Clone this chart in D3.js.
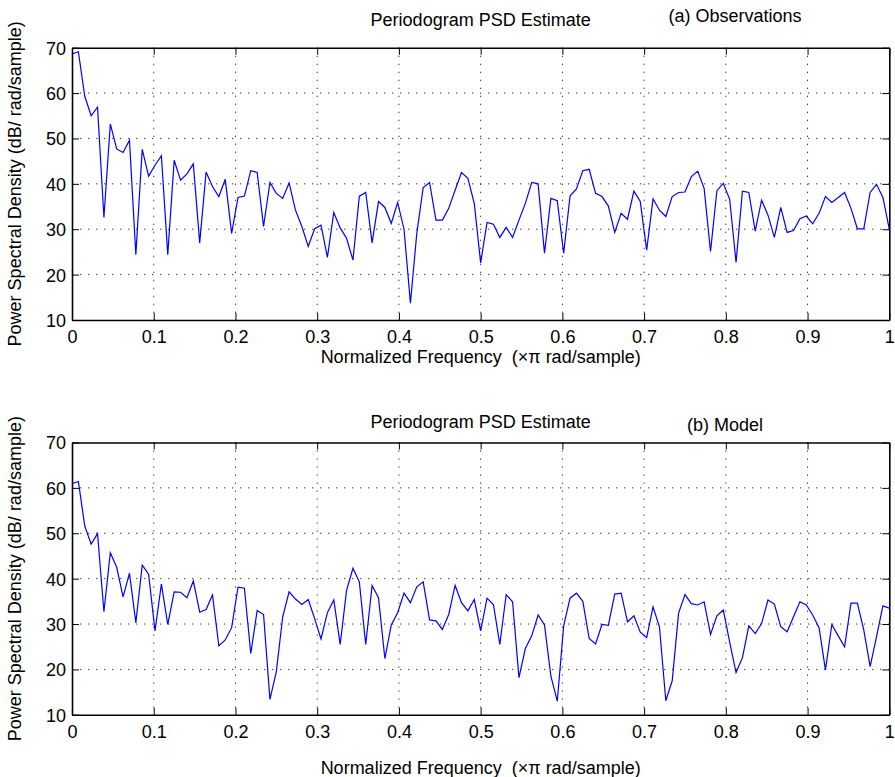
<!DOCTYPE html>
<html>
<head>
<meta charset="utf-8">
<script src="https://cdn.jsdelivr.net/npm/d3@7"></script>
<style>
  body { margin: 0; background: #fff; }
  text { font-family: "Liberation Sans", Arial, Helvetica, sans-serif; fill: #000; white-space: pre; }
  .axis path, .axis line { stroke: #000; }
  .grid line { stroke: #333; stroke-dasharray: 1.3,6.7; stroke-width: 1; }
</style>
</head>
<body>
<div id="chart"></div>
<script>
// periodogram bins: 256-point FFT -> 129 bins from 0 to 1 (x pi rad/sample)
var nfft = 256;
var freq = d3.range(nfft / 2 + 1).map(function(k) { return k / (nfft / 2); });

// (a) Observations, dB/(rad/sample)
var observations = [68.6, 69.1, 59.3, 55.0, 56.9, 32.6, 53.2, 47.7, 46.9, 49.6,
  24.4, 47.6, 41.7, 44.1, 46.2, 24.4, 45.2, 40.8, 42.2, 44.4,
  27.0, 42.6, 39.4, 37.2, 41.0, 29.1, 37.0, 37.3, 42.9, 42.5,
  30.6, 40.3, 37.9, 36.8, 40.2, 34.2, 30.6, 26.2, 30.1, 30.9,
  23.8, 33.7, 30.3, 28.0, 23.2, 37.3, 38.1, 27.0, 36.1, 34.8,
  31.3, 35.9, 30.0, 13.7, 29.1, 39.2, 40.3, 32.0, 32.0, 34.6,
  38.6, 42.5, 41.2, 35.7, 22.6, 31.5, 31.1, 28.2, 30.4, 28.2,
  32.0, 35.7, 40.3, 40.0, 24.7, 36.8, 36.3, 24.7, 37.3, 38.9,
  42.9, 43.2, 37.9, 37.2, 35.1, 29.3, 33.5, 32.2, 38.4, 36.1,
  25.4, 36.7, 34.2, 32.8, 37.2, 38.1, 38.2, 41.6, 42.8, 39.0,
  25.1, 38.5, 40.1, 36.6, 22.7, 38.4, 38.1, 29.6, 36.4, 33.1,
  28.2, 34.8, 29.3, 29.7, 32.3, 32.9, 31.2, 33.5, 37.2, 35.9,
  37.0, 38.1, 34.6, 30.1, 30.1, 38.1, 39.9, 37.0, 30.0];

// (b) Model
var model = [60.9, 61.4, 51.6, 47.6, 49.9, 32.7, 45.7, 42.5, 36.0, 41.2,
  30.3, 43.0, 41.0, 28.5, 38.8, 29.9, 37.1, 37.0, 35.8, 39.5,
  32.6, 33.2, 36.4, 25.2, 26.5, 29.2, 38.1, 37.9, 23.5, 33.0,
  32.1, 13.4, 19.5, 31.6, 37.1, 35.5, 34.3, 35.4, 31.2, 26.7,
  32.5, 35.3, 25.5, 37.4, 42.3, 39.3, 25.5, 38.5, 35.8, 22.4,
  29.8, 32.5, 36.8, 34.7, 38.2, 39.3, 30.9, 30.7, 28.8, 32.1,
  38.5, 34.7, 32.9, 35.4, 28.5, 35.7, 34.3, 25.5, 36.5, 34.9,
  18.2, 24.6, 27.4, 32.0, 29.8, 18.5, 13.0, 29.6, 35.7, 36.8,
  35.0, 26.8, 25.6, 29.9, 29.7, 36.6, 36.8, 30.5, 31.8, 28.2,
  27.0, 33.8, 29.4, 13.1, 17.5, 32.4, 36.5, 34.5, 34.2, 34.9,
  27.7, 31.8, 33.1, 26.0, 19.3, 22.6, 29.6, 27.9, 30.1, 35.3,
  34.4, 29.4, 28.3, 31.6, 34.9, 34.2, 32.0, 29.2, 19.9, 29.9,
  27.4, 25.0, 34.6, 34.6, 28.7, 20.6, 27.2, 34.0, 33.5];

var xTicks = [0, 0.1, 0.2, 0.3, 0.4, 0.5, 0.6, 0.7, 0.8, 0.9, 1];
var yTicks = [10, 20, 30, 40, 50, 60, 70];
var titleText = "Periodogram PSD Estimate";
var xLabel = "Normalized Frequency  (\u00d7\u03c0 rad/sample)";
var yLabel = "Power Spectral Density (dB/ rad/sample)";

var W = 895, H = 777;
var left = 72, right = 889.3, plotH = 272.3;
var fs = 18;

var svg = d3.select("#chart").append("svg")
    .attr("width", W)
    .attr("height", H);

var x = d3.scaleLinear().domain([0, 1]).range([0, right - left]);
var y = d3.scaleLinear().domain([10, 70]).range([plotH, 0]);
var width = right - left;

function xfmt(d) { return d === 0 || d === 1 ? String(d) : d3.format(".1f")(d); }

function panel(top, values, tag, tagX, tagDy, titleDy, labelPad, xlabelY) {
  var g = svg.append("g")
      .attr("transform", "translate(" + left + "," + top + ")");

  // dotted grid
  var grid = g.append("g").attr("class", "grid");
  grid.selectAll(".gx").data(xTicks.slice(1, -1)).enter().append("line")
      .attr("x1", function(d) { return x(d); }).attr("x2", function(d) { return x(d); })
      .attr("y1", 0).attr("y2", plotH);
  grid.selectAll(".gy").data(yTicks.slice(1, -1)).enter().append("line")
      .attr("x1", 0).attr("x2", width)
      .attr("y1", function(d) { return y(d); }).attr("y2", function(d) { return y(d); });

  // data line
  var line = d3.line()
      .x(function(d, i) { return x(freq[i]); })
      .y(function(d) { return y(d); });
  g.append("path")
      .datum(values)
      .attr("fill", "none")
      .attr("stroke", "#0000ff")
      .attr("stroke-width", 1.2)
      .attr("d", line);

  // axes, ticks pointing inward on all sides
  g.append("g").attr("class", "axis")
      .attr("transform", "translate(0," + plotH + ")")
      .call(d3.axisBottom(x).tickValues(xTicks).tickSizeInner(-7).tickSizeOuter(0)
            .tickPadding(labelPad).tickFormat(xfmt));
  g.append("g").attr("class", "axis")
      .call(d3.axisTop(x).tickValues(xTicks).tickSizeInner(-7).tickSizeOuter(0).tickFormat(""));
  var leftAx = g.append("g").attr("class", "axis")
      .call(d3.axisLeft(y).tickValues(yTicks).tickSizeInner(-7).tickSizeOuter(0).tickPadding(6));
  g.append("g").attr("class", "axis")
      .attr("transform", "translate(" + width + ",0)")
      .call(d3.axisRight(y).tickValues(yTicks).tickSizeInner(-7).tickSizeOuter(0).tickFormat(""));

  g.selectAll(".axis path").attr("stroke-width", 1.6);
  g.selectAll(".axis text").attr("font-size", fs).attr("font-family", null);
  leftAx.selectAll("text").attr("dy", "0.36em");

  // titles
  g.append("text")
      .attr("x", width / 2)
      .attr("y", titleDy)
      .attr("text-anchor", "middle")
      .attr("font-size", fs)
      .text(titleText);
  g.append("text")
      .attr("x", tagX - left)
      .attr("y", tagDy)
      .attr("text-anchor", "middle")
      .attr("font-size", fs)
      .text(tag);

  // axis labels
  g.append("text")
      .attr("x", width / 2)
      .attr("y", xlabelY - top)
      .attr("text-anchor", "middle")
      .attr("font-size", fs)
      .text(xLabel);
  g.append("text")
      .attr("transform", "translate(" + (20.5 - left) + "," + (plotH / 2) + ") rotate(-90)")
      .attr("text-anchor", "middle")
      .attr("font-size", fs)
      .text(yLabel);
}

panel(47.7, observations, "(a) Observations", 735, 21.7 - 47.7, 26 - 47.7, 10.5, 363.5);
panel(442.5, model, "(b) Model", 725, 430.7 - 442.5, 427.5 - 442.5, 10, 774);
</script>
</body>
</html>
